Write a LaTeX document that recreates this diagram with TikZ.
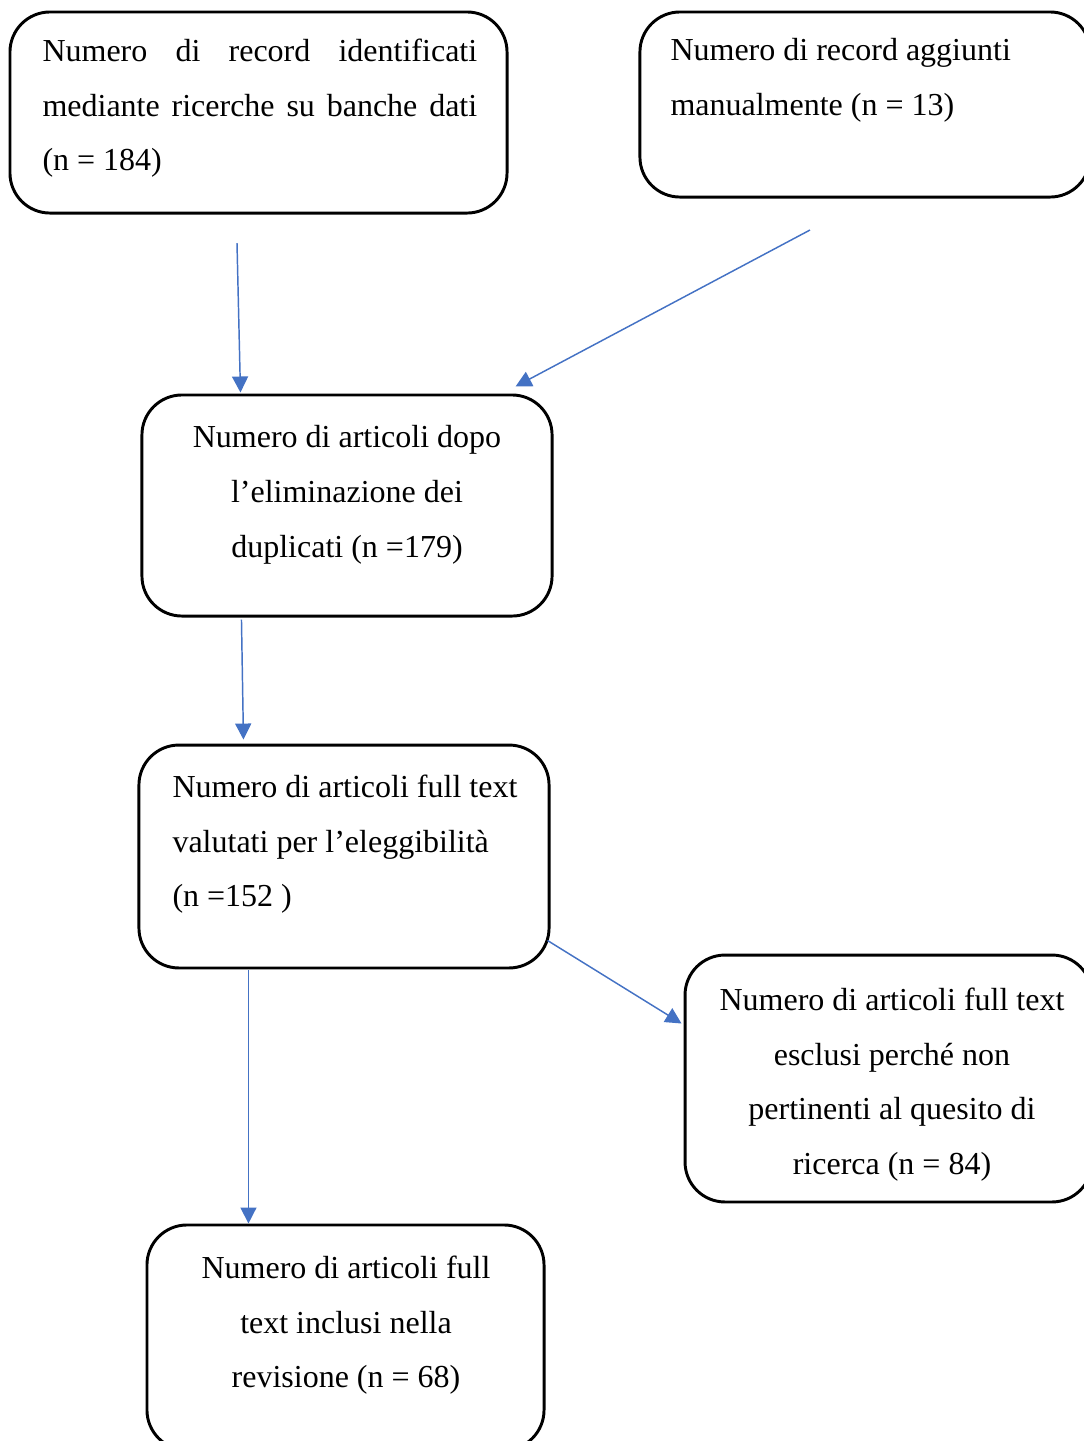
\documentclass[tikz,border=0pt]{standalone}
\usepackage{fontspec}
\setmainfont{Liberation Serif}
\usetikzlibrary{arrows.meta,calc}
\definecolor{FlowBlue}{RGB}{68,114,196}

\begin{document}
\begin{tikzpicture}[x=0.375pt,y=-0.375pt,>={Triangle[length=6pt,width=6pt]},every node/.style={font=\fontsize{12}{20.6}\selectfont}]
\tikzset{box/.style={draw,line width=1.1pt,rounded corners=15pt,inner sep=0pt},txt/.style={inner sep=0pt,anchor=north},flow/.style={->,draw=FlowBlue,line width=0.55pt}}
\useasboundingbox (0,0) rectangle (1084,1441);
% boxes
\node[box,minimum width=186.4pt,minimum height=75.4pt] (db) at (258.5,112.5) {};
\node[box,minimum width=168.8pt,minimum height=69.4pt] (man) at (865,104.5) {};
\node[box,minimum width=153.8pt,minimum height=82.9pt] (dup) at (347,505.5) {};
\node[box,minimum width=153.8pt,minimum height=83.6pt] (full) at (344,856.5) {};
\node[box,minimum width=152.6pt,minimum height=92.6pt] (excl) at (888.5,1078.5) {};
\node[box,minimum width=148.9pt,minimum height=84.4pt] (incl) at (345.5,1337.5) {};
% texts
\node[txt,anchor=north west,align=left] (dbt) at (42,38) {\makebox[163pt][s]{Numero di record identificati}\\\makebox[163pt][s]{mediante ricerche su banche dati}\\(n = 184)};
\node[txt,anchor=north west,align=left] (mant) at (670,38) {Numero di record aggiunti\\manualmente (n = 13)};
\node[txt,align=center] (dupt) at (347,425) {Numero di articoli dopo\\l’eliminazione dei\\duplicati (n =179)};
\node[txt,anchor=north west,align=left] (fullt) at (172,774) {Numero di articoli full text\\valutati per l’eleggibilità\\(n =152 )};
\node[txt,align=center] (exclt) at (892,987) {Numero di articoli full text\\esclusi perché non\\pertinenti al quesito di\\ricerca (n = 84)};
\node[txt,align=center] (inclt) at (346,1255) {Numero di articoli full\\text inclusi nella\\revisione (n = 68)};
% arrows
\coordinate (fromdb) at (237,243);
\coordinate (fromman) at (810,230);
\draw[flow] (fromdb) -- ($(dup.north west)+(100,-1)$);
\draw[flow] (fromman) -- ($(dup.north east)+(-38,-7)$);
\draw[flow] ($(dup.south west)+(101,2)$) -- ($(full.north west)+(106,-4)$);
\draw[flow] ($(full.east)+(-3,84)$) -- ($(excl.west)+(-2,-55)$);
\draw[flow] ($(full.south west)+(111,1)$) coordinate (fromfull) -- (fromfull |- incl.north);
\end{tikzpicture}
\end{document}
